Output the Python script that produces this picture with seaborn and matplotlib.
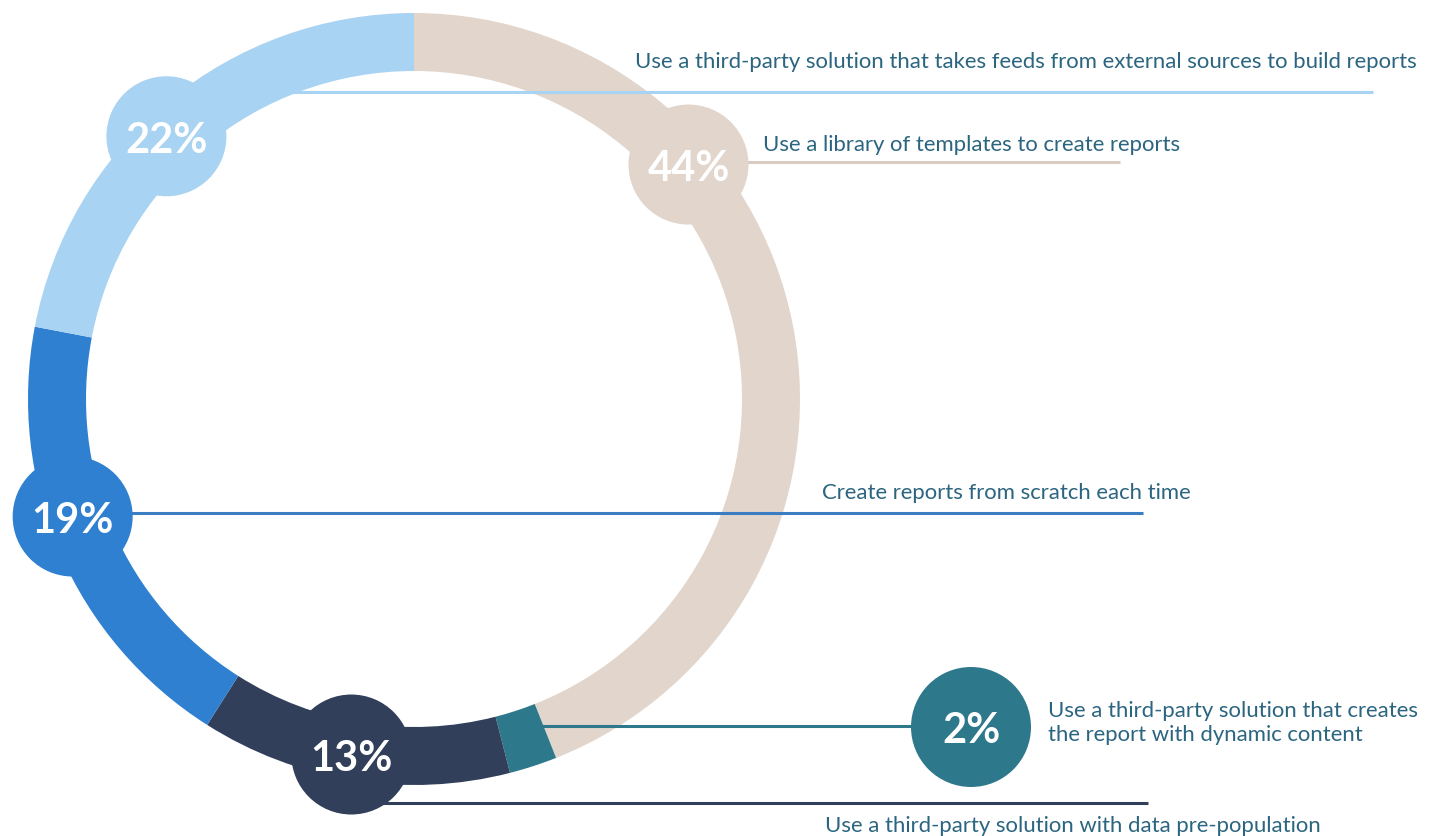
import numpy as np
import matplotlib
matplotlib.use("Agg")
import matplotlib.pyplot as plt
from matplotlib.patches import Circle
import seaborn as sns

# ---- data -------------------------------------------------------------
answers = [
    "Use a library of templates to create reports",
    "Use a third-party solution that creates\nthe report with dynamic content",
    "Use a third-party solution with data pre-population",
    "Create reports from scratch each time",
    "Use a third-party solution that takes feeds from external sources to build reports",
]
shares = [44, 2, 13, 19, 22]
colors = ["#E1D5CC", "#2E788B", "#323F5A", "#2F80D1", "#A9D3F2"]
line_colors = ["#D8CBC2", "#2E788B", "#323F5A", "#3A7DC2", "#A9D3F2"]

# ---- layout (pixel space, y measured from the top) ---------------------
W, H = 1439, 837
CX, CY = 414, 400          # ring centre
R_OUT, RING_W = 386, 58
R_MID = R_OUT - RING_W / 2
BUBBLE_R = 60
# where each percentage bubble sits: angle on the ring, or a free point
bubble_angle = [40.5, None, -100, -161, 133.3]
bubble_free = {1: (971, 728)}
# leader line per answer: (y, x_start, x_end)
leaders = [(163, 700, 1120), (727, 515, 971), (804, 360, 1148),
           (514, 70, 1143), (93, 293, 1373)]
# answer text anchor: (x_left, y_centre)
text_pos = [(763, 145), (1048, 723), (825, 826), (822, 493), (635, 62)]

sns.set_theme(style="white")
plt.rcParams["font.family"] = ["Lato", "DejaVu Sans"]


def fy(y):
    """Flip a top-down pixel y into the axes' bottom-up data space."""
    return H - y


fig = plt.figure(figsize=(W / 100, H / 100), dpi=100)
ax = fig.add_axes([0, 0, 1, 1])

# ring
ax.pie(shares, colors=colors, startangle=90, counterclock=False,
       radius=R_OUT, center=(CX, fy(CY)), frame=True,
       wedgeprops=dict(width=RING_W, linewidth=0, antialiased=True))

ax.set_xlim(0, W)
ax.set_ylim(0, H)
ax.set_aspect("equal")
ax.axis("off")

for i, (label, val) in enumerate(zip(answers, shares)):
    # leader line
    y, x0, x1 = leaders[i]
    ax.plot([x0, x1], [fy(y), fy(y)], color=line_colors[i], lw=2.2,
            solid_capstyle="butt", zorder=3)

    # bubble position
    if i in bubble_free:
        bx, by = bubble_free[i]
        by = fy(by)
    else:
        a = np.deg2rad(bubble_angle[i])
        bx = CX + (R_MID + 4) * np.cos(a)
        by = fy(CY) + (R_MID + 4) * np.sin(a)
    ax.add_patch(Circle((bx, by), BUBBLE_R, facecolor=colors[i],
                        edgecolor="none", zorder=4))
    ax.text(bx, by, f"{val}%", color="white", fontsize=30,
            fontweight="bold", ha="center", va="center_baseline", zorder=5)

    # answer text
    tx, ty = text_pos[i]
    ax.text(tx, fy(ty), label, color="#2B6580", fontsize=15.9,
            ha="left", va="center", linespacing=1.25, zorder=5)

fig.savefig("out.png", dpi=100, facecolor="white")
